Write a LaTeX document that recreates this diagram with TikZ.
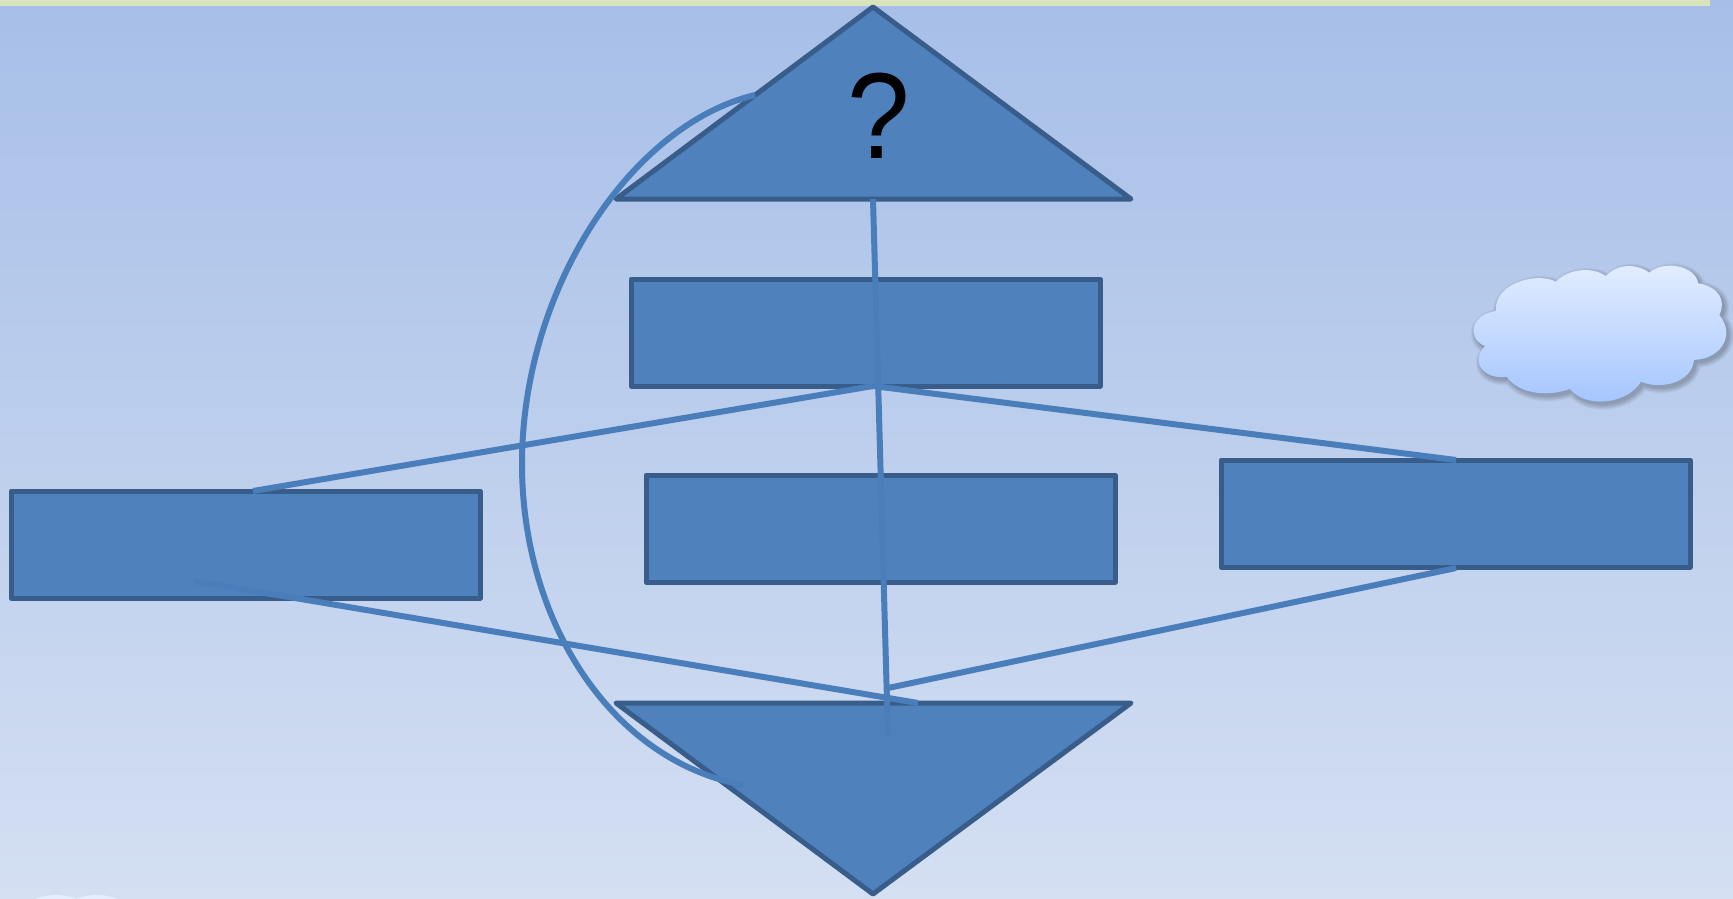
\documentclass[tikz,border=0pt]{standalone}
\usepackage{fontspec}
\setmainfont{Liberation Sans}
\tikzset{
  x=1pt,y=-1pt,
  blockbox/.style={draw=blockedge,fill=blockfill,line width=5pt,line join=round,minimum width=469pt,minimum height=107pt,inner sep=0pt,outer sep=0pt,anchor=north west},
  trishape/.style={draw=blockedge,fill=blockfill,line width=5pt,line join=round},
  linkline/.style={draw=linkcol,line width=6pt},
  cloudshade/.style={draw=black,fill=black,line join=round},
  cloudbody/.style={top color=cloudtop,bottom color=cloudbot,draw=none}
}
\definecolor{blockedge}{HTML}{385D8A}
\definecolor{blockfill}{HTML}{4F81BD}
\definecolor{linkcol}{HTML}{4A7EBB}
\definecolor{bgtop}{HTML}{A7BFE8}
\definecolor{bgbot}{HTML}{D4DFF2}
\definecolor{bandcol}{HTML}{D8E4BC}
\definecolor{cloudtop}{HTML}{E4EEFF}
\definecolor{cloudbot}{HTML}{A3C4FF}
\newcommand{\cloudpath}{
  (135,318) .. controls (85,300) and (85,225) .. (168,213)
  .. controls (160,130) and (290,95) .. (348,125)
  .. controls (385,85) and (460,80) .. (497,108)
  .. controls (535,70) and (590,70) .. (628,98)
  .. controls (670,60) and (765,75) .. (775,130)
  .. controls (835,140) and (860,180) .. (838,225)
  .. controls (885,280) and (850,355) .. (762,360)
  .. controls (755,430) and (660,450) .. (603,425)
  .. controls (560,495) and (435,505) .. (390,447)
  .. controls (310,475) and (230,455) .. (200,410)
  .. controls (130,420) and (90,365) .. (135,318) -- cycle}
\begin{document}
\begin{tikzpicture}
\useasboundingbox (0,0) rectangle (1733,899);
\clip (0,0) rectangle (1733,899);
\shade[top color=bgtop,bottom color=bgbot] (0,0) rectangle (1733,899);
\fill[bandcol] (0,0) rectangle (1710,6);
% clouds
\begin{scope}[shift={(1440,240)},x=0.3333pt,y=-0.3333pt]
  \foreach \w in {32,28,24,20,16,12,8,4,1}{
    \begin{scope}[transparency group,opacity=.028]
      \path[cloudshade,line width=\w*0.3333pt,shift={(7,9)}] \cloudpath;
    \end{scope}
  }
  \path[cloudbody] \cloudpath;
\end{scope}
\fill[cloudtop] (56,915) ellipse (34 and 20);
\fill[cloudtop] (97,915) ellipse (34 and 20);
% coordinates
\coordinate (topapex) at (873,7);
\coordinate (topleft) at (616,199);
\coordinate (topright) at (1131,199);
\coordinate (botapex) at (873,894);
\coordinate (botleft) at (616,703);
\coordinate (botright) at (1131,703);
\coordinate (vstart) at (873,199);
\coordinate (vend) at (888,737);
\coordinate (hub) at (873,386);
\coordinate (leftup) at (253,491);
\coordinate (rightup) at (1456,460);
\coordinate (rightdown) at (1456,568);
\coordinate (rightjoin) at (888,688);
\coordinate (leftdown) at (194,581);
\coordinate (lowjoin) at (918,703);
\coordinate (arcstart) at (755,95);
\coordinate (arcmid) at (522,464);
\coordinate (arcend) at (743,785);
% shapes
\path[trishape] (topapex) -- (topright) -- (topleft) -- cycle;
\path[trishape] (botapex) -- (botright) -- (botleft) -- cycle;
\node[blockbox] (boxone) at (631,279) {};
\node[blockbox] (boxtwo) at (646,475) {};
\node[blockbox] (boxright) at (1221,460) {};
\node[blockbox] (boxleft) at (11,491) {};
\node[anchor=base,inner sep=0pt,xscale=.97,yscale=1.055,font=\fontsize{116pt}{116pt}\selectfont,text=black] (qmark) at (879,158) {?};
% connectors
\draw[linkline] (vstart) -- (vend);
\draw[linkline] (hub) -- (leftup);
\draw[linkline] (hub) -- (rightup);
\draw[linkline] (rightdown) -- (rightjoin);
\draw[linkline] (leftdown) -- (lowjoin);
\draw[linkline] (arcstart) .. controls (630,125) and (522,290) .. (arcmid)
  .. controls (522,620) and (610,760) .. (arcend);
\end{tikzpicture}
\end{document}
